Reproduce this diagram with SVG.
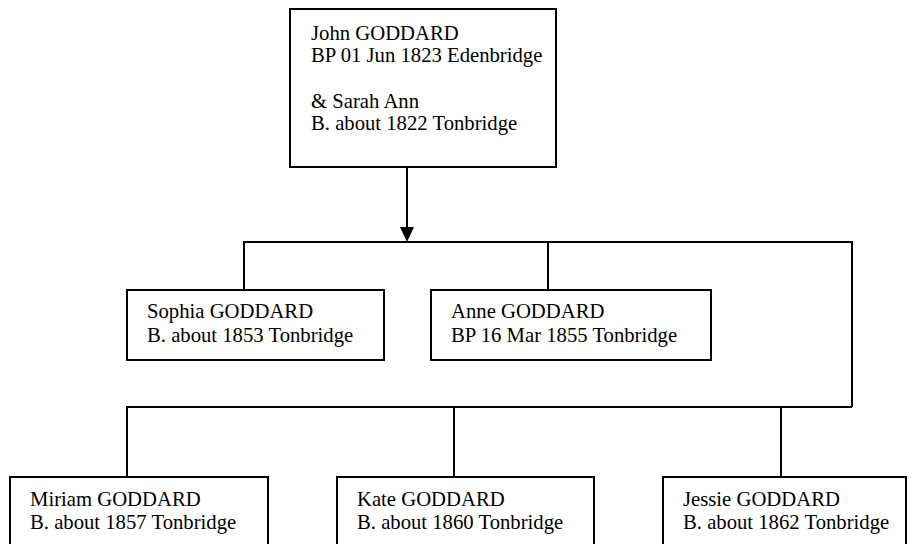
<svg xmlns="http://www.w3.org/2000/svg" width="909" height="544" viewBox="0 0 909 544">
<style>
.box{fill:#fff;stroke:#000;stroke-width:2}
.t{font-family:"Liberation Serif","Times New Roman",serif;font-size:20.7px;fill:#000}
.c{fill:none;stroke:#000;stroke-width:2}
.ah{fill:#000}
</style>
<rect width="909" height="544" fill="#fff"/>
<g id="connectors">
<line class="c" x1="407" y1="168" x2="407" y2="228"/>
<path class="ah" d="M400,227 L414,227 L407,242 Z"/>
<polyline class="c" points="244,290 244,242 852,242 852,407"/>
<line class="c" x1="548" y1="242" x2="548" y2="290"/>
<polyline class="c" points="127,477 127,407 852,407"/>
<line class="c" x1="454" y1="407" x2="454" y2="477"/>
<line class="c" x1="781" y1="407" x2="781" y2="477"/>
</g>
<g id="john">
<rect class="box" x="290" y="9" width="266" height="158"/>
<text class="t" x="311" y="40">John GODDARD</text>
<text class="t" x="311" y="62">BP 01 Jun 1823 Edenbridge</text>
<text class="t" x="311" y="108">&amp; Sarah Ann</text>
<text class="t" x="311" y="130">B. about 1822 Tonbridge</text>
</g>
<g id="sophia">
<rect class="box" x="127" y="290" width="257" height="70"/>
<text class="t" x="147" y="318">Sophia GODDARD</text>
<text class="t" x="147" y="342">B. about 1853 Tonbridge</text>
</g>
<g id="anne">
<rect class="box" x="431" y="290" width="280" height="70"/>
<text class="t" x="451" y="318">Anne GODDARD</text>
<text class="t" x="451" y="342">BP 16 Mar 1855 Tonbridge</text>
</g>
<g id="miriam">
<rect class="box" x="10" y="477" width="258" height="80"/>
<text class="t" x="30" y="506">Miriam GODDARD</text>
<text class="t" x="30" y="529">B. about 1857 Tonbridge</text>
</g>
<g id="kate">
<rect class="box" x="337" y="477" width="257" height="80"/>
<text class="t" x="357" y="506">Kate GODDARD</text>
<text class="t" x="357" y="529">B. about 1860 Tonbridge</text>
</g>
<g id="jessie">
<rect class="box" x="663" y="477" width="243" height="80"/>
<text class="t" x="683" y="506">Jessie GODDARD</text>
<text class="t" x="683" y="529">B. about 1862 Tonbridge</text>
</g>
</svg>
